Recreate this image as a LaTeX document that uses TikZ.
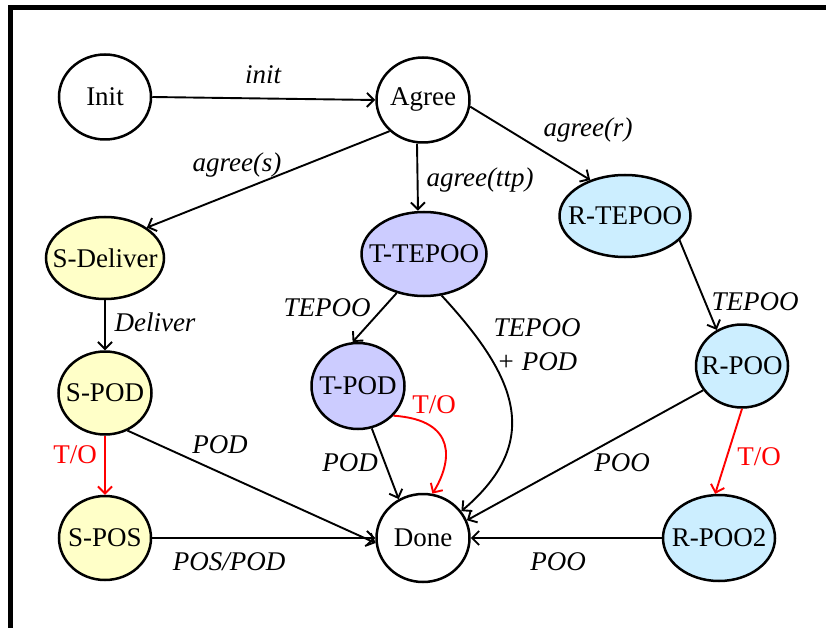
\documentclass[tikz,border=0pt]{standalone}
\usepackage{fontspec}
\setmainfont{Liberation Serif}
\usetikzlibrary{shapes.geometric,arrows.meta}

\definecolor{sfill}{RGB}{255,255,200}
\definecolor{tfill}{RGB}{204,204,255}
\definecolor{rfill}{RGB}{204,238,255}
\definecolor{tored}{RGB}{255,0,0}

\tikzset{
  % the ellipse is sized explicitly; its name is set as a centred label
  state/.style={ellipse, draw=black, line width=2.5pt, inner sep=0pt,
    label={[font=\fontsize{27}{30}\selectfont, inner sep=0pt]center:#1}},
  sstate/.style={state={#1}, fill=sfill},
  tstate/.style={state={#1}, fill=tfill},
  rstate/.style={state={#1}, fill=rfill},
  trans/.style={line width=1.9pt, -{Straight Barb[length=7pt,width=14pt]}},
  timeout/.style={trans, draw=tored},
  lbl/.style={font=\fontsize{27}{34}\selectfont\itshape, inner sep=0pt},
  tolbl/.style={font=\fontsize{27}{30}\selectfont, text=tored, inner sep=0pt},
}

\begin{document}
\begin{tikzpicture}[x=1pt, y=-1pt]
  \useasboundingbox (0,0) rectangle (826,628);
  % frame edges
  \draw[line width=5pt] (10.5,628) -- (10.5,7.5) -- (826,7.5);

  % states
  \node[state=Init,       minimum width=92pt,  minimum height=85pt] (Init)   at (105,97)  {};
  \node[state=Agree,      minimum width=93pt,  minimum height=85pt] (Agree)  at (423,100) {};
  \node[sstate=S-Deliver, minimum width=118pt, minimum height=82pt] (SDel)   at (105,258) {};
  \node[tstate=T-TEPOO,   minimum width=125pt, minimum height=84pt] (TTEPOO) at (424,254) {};
  \node[rstate=R-TEPOO,   minimum width=131pt, minimum height=82pt] (RTEPOO) at (625,216) {};
  \node[sstate=S-POD,     minimum width=93pt,  minimum height=83pt] (SPOD)   at (105,393) {};
  \node[tstate=T-POD,     minimum width=93pt,  minimum height=86pt] (TPOD)   at (358,386) {};
  \node[rstate=R-POO,     minimum width=92pt,  minimum height=83pt] (RPOO)   at (742,366) {};
  \node[sstate=S-POS,     minimum width=92pt,  minimum height=84pt] (SPOS)   at (105,538) {};
  \node[state=Done,       minimum width=93pt,  minimum height=88pt] (Done)   at (423,538) {};
  \node[rstate=R-POO2,    minimum width=112pt, minimum height=86pt] (RPOO2)  at (719,538) {};

  % transitions
  \draw[trans] (Init.east) -- (Agree.west);
  \draw[trans] (Agree.223) -- (SDel.36);
  \draw[trans] ([xshift=-6pt]Agree.south) -- ([xshift=-6pt]TTEPOO.north);
  \draw[trans] (Agree.-8) -- (RTEPOO.134);
  \draw[trans] (SDel) -- (SPOD);
  \draw[trans] (TTEPOO.235) -- (TPOD.97);
  \draw[trans] (TTEPOO.-67) .. controls (515,375) and (545,440) .. (Done.35);
  \draw[trans] (TPOD.-72) -- (Done.122);
  \draw[timeout] (TPOD.-40) .. controls (458,420) and (452,462) .. (Done.78);
  \draw[timeout] (SPOD) -- (SPOS);
  \draw[trans] (SPOD.-59) -- (Done.186);
  \draw[trans] (SPOS) -- (Done);
  \draw[trans] (RTEPOO.-24) -- (RPOO.125);
  \draw[trans] (RPOO.212) -- (Done.22);
  \draw[timeout] (RPOO.south) -- (RPOO2.95);
  \draw[trans] (RPOO2) -- (Done);

  % transition labels
  \node[lbl] (lInit)   at (263,75)  {init};
  \node[lbl] (lAgS)    at (237,165) {agree(s)};
  \node[lbl] (lAgT)    at (480,180) {agree(ttp)};
  \node[lbl] (lAgR)    at (588,130) {agree(r)};
  \node[lbl] (lDel)    at (155,322) {Deliver};
  \node[lbl] (lTep1)   at (327,308) {TEPOO};
  \node[lbl, align=center] (lTep2) at (537,345) {TEPOO\\+ POD};
  \node[lbl] (lTpod)   at (350,463) {POD};
  \node[lbl] (lSpod)   at (220,445) {POD};
  \node[lbl] (lSpos)   at (229,562) {POS/POD};
  \node[lbl] (lTep3)   at (755,302) {TEPOO};
  \node[lbl] (lPoo1)   at (622,463) {POO};
  \node[lbl] (lPoo2)   at (558,562) {POO};
  \node[tolbl] (lTo1)  at (434,405) {T/O};
  \node[tolbl] (lTo2)  at (75,455)  {T/O};
  \node[tolbl] (lTo3)  at (759,457) {T/O};
\end{tikzpicture}
\end{document}
